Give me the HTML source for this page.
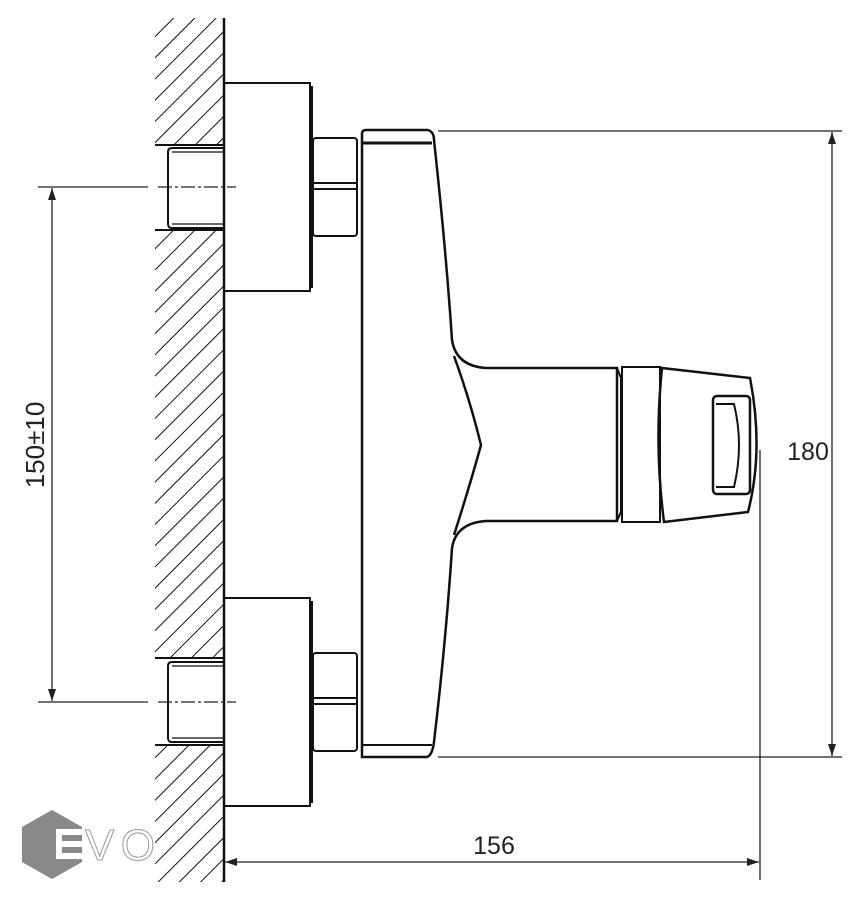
<!DOCTYPE html>
<html><head><meta charset="utf-8"><style>html,body{margin:0;padding:0;background:#fff}svg{display:block}</style></head>
<body>
<svg width="860" height="900" viewBox="0 0 860 900" xmlns="http://www.w3.org/2000/svg">
<defs>
<pattern id="h" patternUnits="userSpaceOnUse" width="15" height="15" patternTransform="rotate(45)">
<line x1="0" y1="0" x2="0" y2="15" stroke="#111" stroke-width="2"/>
</pattern>
<marker id="a" markerWidth="12" markerHeight="8" refX="12" refY="4" orient="auto" markerUnits="userSpaceOnUse">
<path d="M0,0 L12,4 L0,8 z" fill="#222"/></marker>
</defs>
<g>
<rect x="155" y="18" width="69" height="127" fill="url(#h)"/>
<rect x="155" y="230" width="69" height="428" fill="url(#h)"/>
<rect x="155" y="745" width="69" height="137" fill="url(#h)"/>
</g>
<g fill="none" stroke="#111" stroke-width="2">
<line x1="224" y1="18" x2="224" y2="882" stroke-width="2.5"/>
<line x1="155" y1="145" x2="224" y2="145"/><line x1="155" y1="230" x2="224" y2="230"/>
<line x1="155" y1="658" x2="224" y2="658"/><line x1="155" y1="745" x2="224" y2="745"/>
<path d="M224,148 H172 Q168,148 168,152 V224 Q168,228 172,228 H224"/>
<line x1="172" y1="152" x2="224" y2="152" stroke-width="1.2"/><line x1="172" y1="224" x2="224" y2="224" stroke-width="1.2"/>
<path d="M224,662 H172 Q168,662 168,666 V738 Q168,742 172,742 H224"/>
<line x1="172" y1="666" x2="224" y2="666" stroke-width="1.2"/><line x1="172" y1="738" x2="224" y2="738" stroke-width="1.2"/>
<rect x="224" y="83" width="86" height="208"/><line x1="312" y1="86" x2="312" y2="288"/>
<rect x="224" y="598" width="86" height="208"/><line x1="312" y1="601" x2="312" y2="803"/>
<rect x="313" y="138" width="44" height="98" rx="3"/><line x1="314" y1="183" x2="356" y2="183"/><line x1="314" y1="189" x2="356" y2="189"/>
<line x1="357" y1="140" x2="357" y2="234"/>
<rect x="313" y="653" width="44" height="98" rx="3"/><line x1="314" y1="698" x2="356" y2="698"/><line x1="314" y1="704" x2="356" y2="704"/>
<path d="M362,757 V134 Q362,130 366,130 H428 Q434,132 434,140 Q446,250 452,340 Q456,366 486,368 H617 V521 H486 Q456,523 452,548 Q446,640 434,742 Q432,757 426,757 Z" stroke-width="2.5"/>
<line x1="363" y1="143" x2="432" y2="143" stroke-width="3"/>
<line x1="363" y1="745" x2="432" y2="745" stroke-width="2"/>
<path d="M454,356 Q470,400 481,445 Q470,485 454,535" stroke-width="2.5"/>
<path d="M617,368 L621,378 V512 L617,521"/>
<rect x="622" y="367" width="38" height="155"/>
<path d="M662,368 Q654,445 664,522 L748,512 Q764,450 750,378 Z" stroke-width="2.5"/>
<rect x="713" y="396" width="37" height="98" rx="4" stroke-width="2.5"/>
<path d="M716,404 H734 Q744,445 734,487 H716" stroke-width="2"/>
</g>
<g stroke="#222" stroke-width="1.3" fill="none">
<line x1="38" y1="187" x2="148" y2="187"/><line x1="158" y1="187" x2="236" y2="187" stroke-dasharray="14,3,3,3"/>
<line x1="38" y1="702" x2="148" y2="702"/><line x1="158" y1="702" x2="236" y2="702" stroke-dasharray="14,3,3,3"/>
<line x1="52" y1="444" x2="52" y2="188" marker-end="url(#a)"/><line x1="52" y1="444" x2="52" y2="701" marker-end="url(#a)"/>
<line x1="438" y1="131" x2="842" y2="131"/><line x1="438" y1="757" x2="842" y2="757"/>
<line x1="832" y1="444" x2="832" y2="132" marker-end="url(#a)"/><line x1="832" y1="444" x2="832" y2="756" marker-end="url(#a)"/>
<line x1="760" y1="450" x2="760" y2="880"/>
<line x1="490" y1="862" x2="225" y2="862" marker-end="url(#a)"/><line x1="490" y1="862" x2="759" y2="862" marker-end="url(#a)"/>
</g>
<g font-family="Liberation Sans, sans-serif" font-size="25" fill="#222">
<text x="494" y="854" text-anchor="middle">156</text>
<text x="808" y="460" text-anchor="middle">180</text>
<text transform="translate(44,445) rotate(-90)" text-anchor="middle" font-size="26">150±10</text>
</g>
<polygon points="52,810 82,827 82,862 52,879 22,862 22,827" fill="#888"/>
<g fill="#fff"><rect x="56" y="829" width="28" height="6"/><rect x="56" y="841" width="28" height="6"/><rect x="56" y="853" width="28" height="6"/><rect x="56" y="829" width="6" height="30"/></g>
<text x="85" y="860" font-family="Liberation Sans, sans-serif" font-size="44" textLength="70" fill="#fff" stroke="#999" stroke-width="1">VO</text>
</svg>
</body></html>
